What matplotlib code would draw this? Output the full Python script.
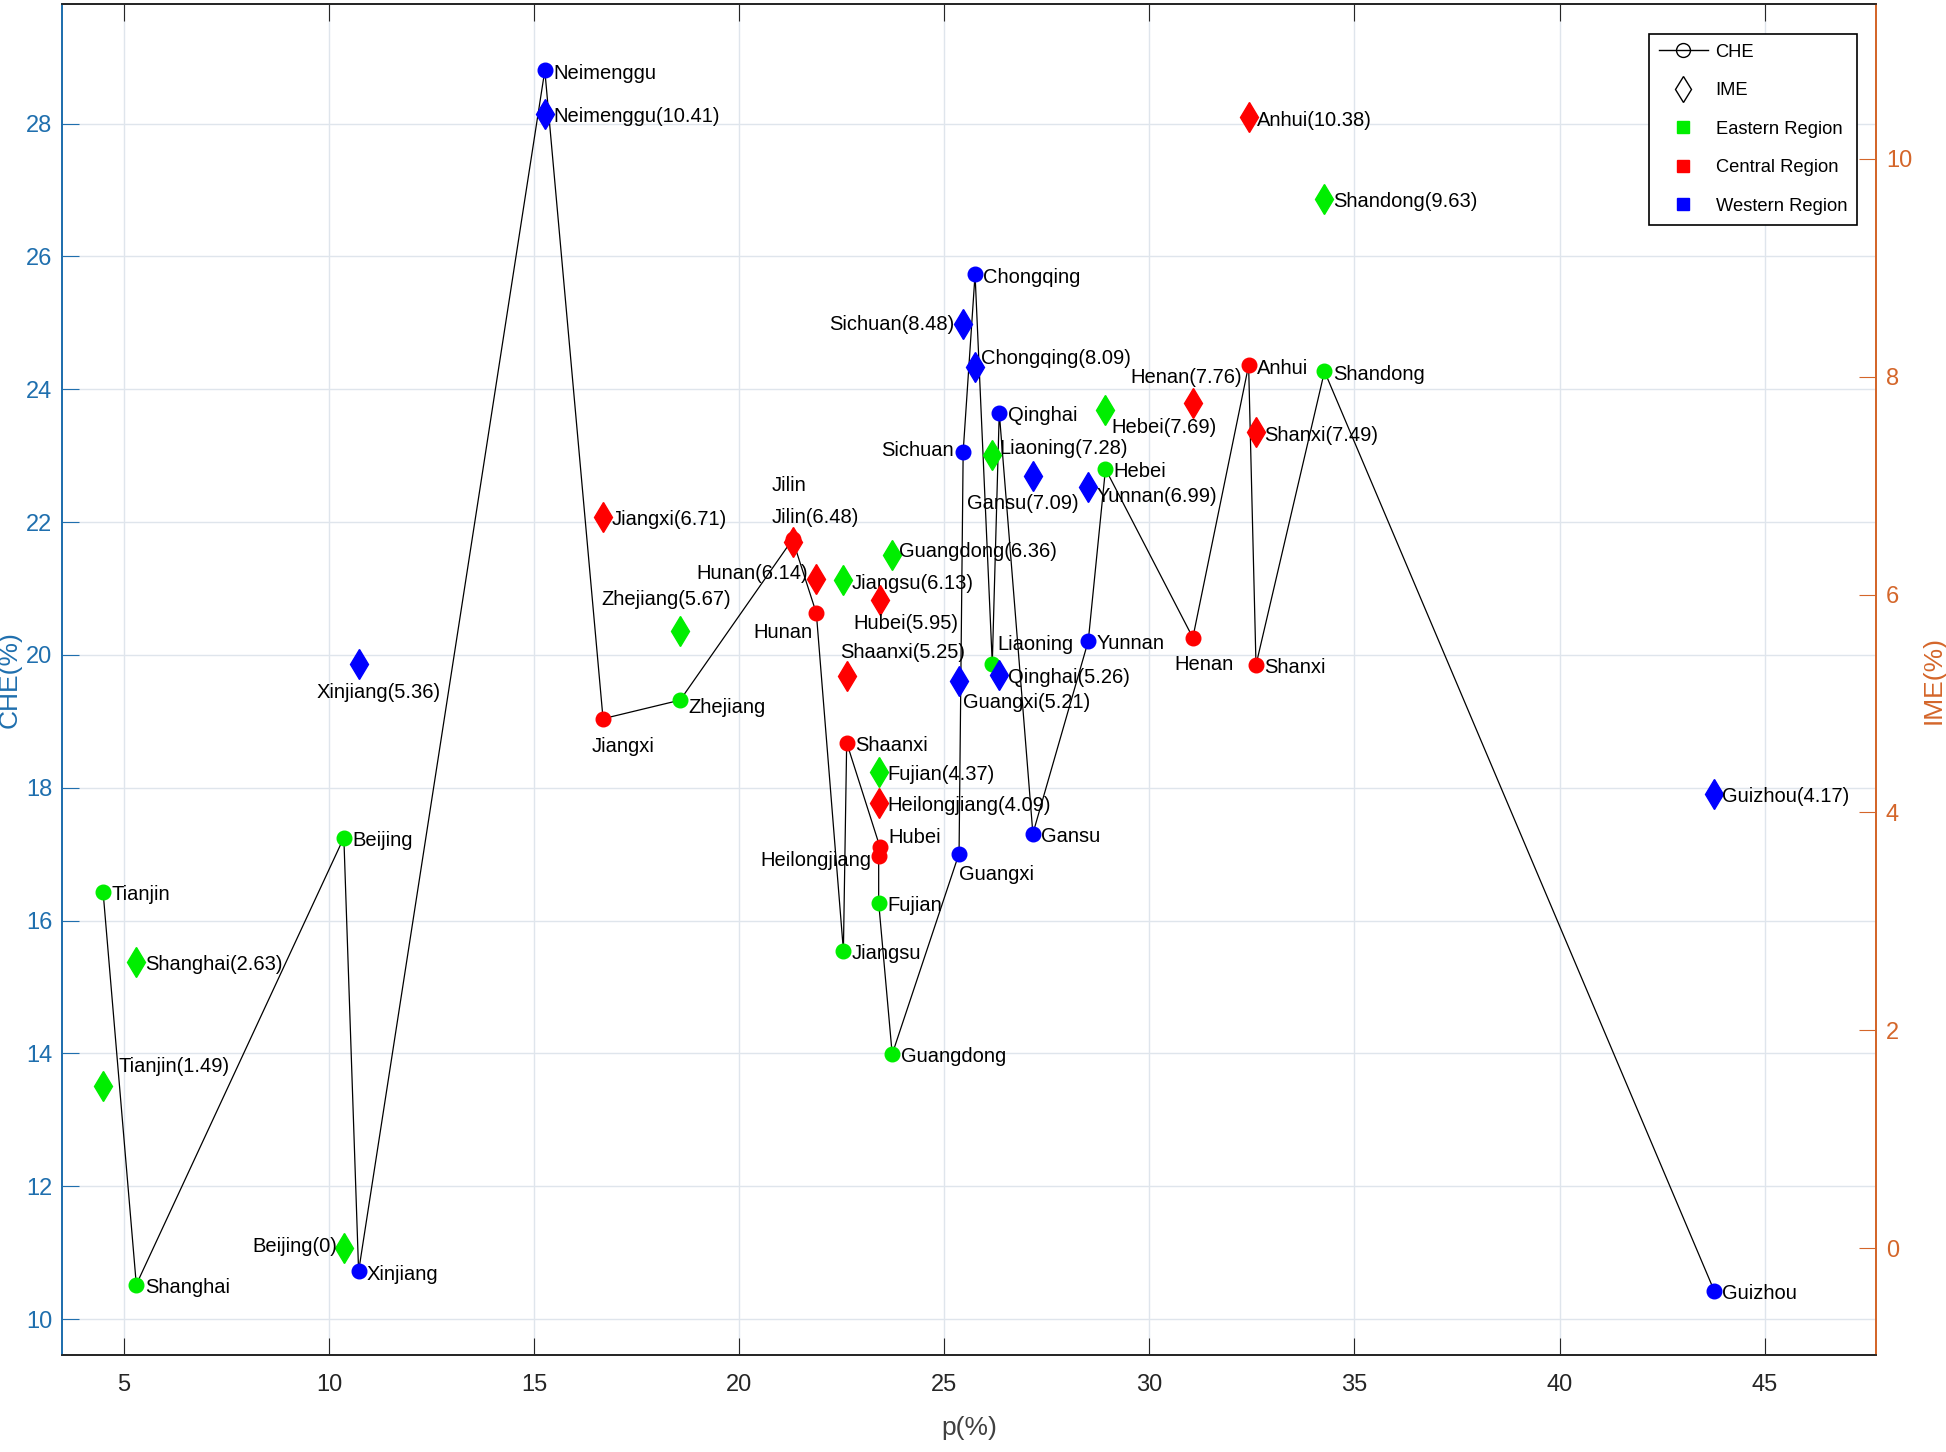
import matplotlib
matplotlib.use("Agg")
import matplotlib.pyplot as plt
from matplotlib.lines import Line2D

plt.rcParams['font.family'] = ['Liberation Sans', 'DejaVu Sans']

# provinces in the order the CHE line joins them
provincias = ["Tianjin", "Shanghai", "Beijing", "Xinjiang", "Neimenggu", "Jiangxi", "Zhejiang",
              "Jilin", "Hunan", "Jiangsu", "Shaanxi", "Hubei", "Heilongjiang", "Fujian",
              "Guangdong", "Guangxi", "Sichuan", "Chongqing", "Liaoning", "Qinghai", "Gansu",
              "Yunnan", "Hebei", "Henan", "Anhui", "Shanxi", "Shandong", "Guizhou"]
p = [4.49, 5.30, 10.36, 10.72, 15.26, 16.68, 18.56,
     21.30, 21.88, 22.54, 22.62, 23.43, 23.40, 23.40,
     23.73, 25.36, 25.46, 25.75, 26.17, 26.34, 27.16,
     28.51, 28.93, 31.06, 32.42, 32.60, 34.27, 43.77]
che = [16.43, 10.52, 17.25, 10.72, 28.80, 19.04, 19.32,
       21.74, 20.63, 15.55, 18.68, 17.11, 16.97, 16.27,
       13.99, 17.01, 23.06, 25.73, 19.87, 23.65, 17.31,
       20.21, 22.80, 20.26, 24.36, 19.85, 24.27, 10.43]
ime = [1.49, 2.63, 0, 5.36, 10.41, 6.71, 5.67,
       6.48, 6.14, 6.13, 5.25, 5.95, 4.09, 4.37,
       6.36, 5.21, 8.48, 8.09, 7.28, 5.26, 7.09,
       6.99, 7.69, 7.76, 10.38, 7.49, 9.63, 4.17]
region = ["E", "E", "E", "W", "W", "C", "E",
          "C", "C", "E", "C", "C", "C", "E",
          "E", "W", "W", "W", "E", "W", "W",
          "W", "E", "C", "C", "C", "E", "W"]

COLORES = {"E": "#00ee00", "C": "#ff0000", "W": "#0000ff"}
AZUL = "#1f6fae"
NARANJA = "#d4662a"

# label offsets (points): dx, dy, ha
off_che = {"Jiangxi": (-8, -20, "left"), "Zhejiang": (6, -5, "left"), "Jilin": (-15, 39, "left"),
           "Hunan": (-3, -14, "right"), "Hubei": (6, 7, "left"), "Heilongjiang": (-5, -3, "right"),
           "Guangxi": (0, -15, "left"), "Sichuan": (-7, 1, "right"), "Liaoning": (4, 14, "left"),
           "Henan": (-13, -19, "left")}
off_ime = {"Chongqing": (4, 6, "left"), "Sichuan": (-6, 0, "right"), "Henan": (-5, 18, "center"),
           "Hebei": (4, -12, "left"), "Liaoning": (5, 5, "left"), "Gansu": (-7, -20, "center"),
           "Yunnan": (6, -7, "left"), "Jilin": (-15, 18, "left"), "Guangdong": (5, 3, "left"),
           "Hunan": (-6, 4, "right"), "Hubei": (-19, -17, "left"), "Zhejiang": (-57, 22, "left"),
           "Xinjiang": (-30, -20, "left"), "Shaanxi": (-5, 17, "left"), "Guangxi": (3, -16, "left"),
           "Tianjin": (11, 14, "left"), "Beijing": (-5, 1, "right")}

FS = 14.5

fig = plt.figure(figsize=(19.46, 14.52), dpi=100)
ax = fig.add_axes([0.0319, 0.0668, 0.9322, 0.9304])
ax2 = ax.twinx()

ax.plot(p, che, color="black", linewidth=0.9, zorder=2)
for i, nom in enumerate(provincias):
    c = COLORES[region[i]]
    ax.plot(p[i], che[i], "o", color=c, markersize=10.5, zorder=3)
    dx, dy, ha = off_che.get(nom, (6, -2, "left"))
    ax.annotate(nom, (p[i], che[i]), xytext=(dx, dy), textcoords="offset points",
                ha=ha, va="center", fontsize=FS, color="black", zorder=4)
    ax2.plot(p[i], ime[i], "d", color=c, markersize=15, zorder=3)
    dx, dy, ha = off_ime.get(nom, (6, -2, "left"))
    ax2.annotate("{}({:g})".format(nom, ime[i]), (p[i], ime[i]), xytext=(dx, dy),
                 textcoords="offset points", ha=ha, va="center", fontsize=FS, color="black")

ax.set_xlim(3.49, 47.72)
ax.set_ylim(9.46, 29.8)
ax2.set_ylim(-0.98, 11.42)
ax.set_xticks(range(5, 50, 5))
ax.set_yticks(range(10, 30, 2))
ax2.set_yticks(range(0, 12, 2))

ax.grid(True, color="#dfe5ec", linewidth=1.0)
ax.set_axisbelow(True)

ax.tick_params(axis="x", direction="in", length=12, top=True, labelsize=17, colors="#262626", pad=14)
ax.tick_params(axis="y", direction="in", length=12, labelsize=17, colors=AZUL, pad=7)
ax2.tick_params(axis="y", direction="in", length=12, labelsize=17, colors=NARANJA, pad=7)

for a in (ax, ax2):
    for s in a.spines.values():
        s.set_linewidth(1.3)
        s.set_color("#262626")
    a.spines["left"].set_color(AZUL)
    a.spines["right"].set_color(NARANJA)

ax.set_xlabel("p(%)", fontsize=19, color="#404040", labelpad=14)
ax.set_ylabel("CHE(%)", fontsize=19, color=AZUL, labelpad=3)
ax2.set_ylabel("IME(%)", fontsize=19, color=NARANJA, labelpad=7)

handles = [Line2D([], [], color="black", linewidth=1, marker="o", markerfacecolor="none",
                  markeredgecolor="black", markersize=10),
           Line2D([], [], linestyle="none", marker="d", markerfacecolor="none",
                  markeredgecolor="black", markersize=13),
           Line2D([], [], linestyle="none", marker="s", color=COLORES["E"], markersize=8),
           Line2D([], [], linestyle="none", marker="s", color=COLORES["C"], markersize=8),
           Line2D([], [], linestyle="none", marker="s", color=COLORES["W"], markersize=8)]
etiquetas = ["CHE", "IME", "Eastern Region", "Central Region", "Western Region"]
leg = ax2.legend(handles, etiquetas, loc="upper right", bbox_to_anchor=(0.9895, 0.978),
                 borderaxespad=0, fontsize=13.2, frameon=True, fancybox=False, framealpha=1,
                 edgecolor="black", handlelength=2.7, handletextpad=0.4, borderpad=0.55,
                 labelspacing=1.17)
leg.get_frame().set_linewidth(1.2)

fig.savefig("out.png", dpi=100)
